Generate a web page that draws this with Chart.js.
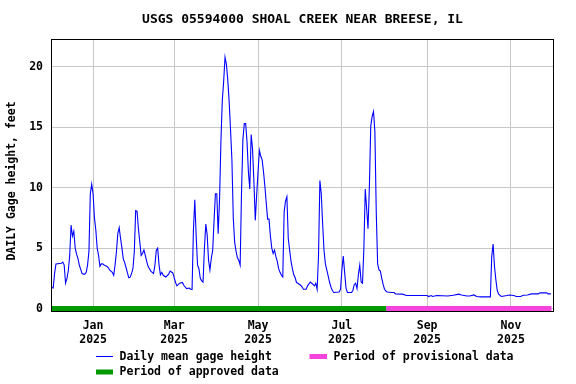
<!DOCTYPE html>
<html>
<head>
<meta charset="utf-8">
<script src="https://cdn.jsdelivr.net/npm/chart.js@4.4.1/dist/chart.umd.min.js"></script>
<style>
  html, body { margin: 0; padding: 0; background: #fff; }
</style>
</head>
<body>
<canvas id="gage" width="576" height="384"></canvas>
<script>
// day 0 = Jan 1 2025
const days = [-30,-29,-28,-27,-23,-22,-21,-20,-19,-18,-17,-16,-15,-14,-13,-12,-11,-10,-9,-8,-7,-6,-5,-4,-3,-2,-1,
  0,1,2,3,4,5,6,7,8,9,10,11,12,13,14,15,16,17,18,19,20,21,22,23,24,25,26,27,28,29,30,31,32,33,34,35,36,37,38,39,
  40,41,42,43,44,45,46,47,48,49,50,51,53,55,56,58,59,60,61,63,65,66,68,70,71,72,73,74,75,76,77,78,79,80,
  81,82,83,84,85,86,87,88,89,90,91,92,93,94,95,96,97,98,99,100,101,102,103,104,105,106,107,108,109,110,
  111,112,113,114,115,116,117,118,119,120,121,122,123,124,125,126,127,128,129,130,131,132,133,134,135,136,137,138,
  139,140,141,142,143,144,145,146,147,148,149,151,152,153,155,156,158,159,160,161,162,163,164,165,166,167,168,169,
  170,171,172,173,174,175,179,180,181,182,183,184,185,188,189,190,191,192,193,194,195,196,197,198,199,200,
  201,202,203,204,205,206,207,208,209,210,211,212,213,214,217,219,220,225,228,243,244,246,247,250,258,262,266,268,
  272,274,277,279,282,289,290,291,292,293,294,295,296,297,299,301,303,306,308,311,313,316,319,324,325,330,331,333];
const heights = [1.75,1.7,2.9,3.7,3.75,3.85,3.6,2.1,2.5,3.15,4.4,6.9,6.0,6.4,5.0,4.5,4.15,3.6,3.25,2.9,2.85,2.85,3.0,3.6,4.75,9.5,10.3,
  9.5,7.5,6.5,5.0,4.4,3.5,3.7,3.7,3.6,3.55,3.5,3.4,3.2,3.1,3.0,2.76,3.6,4.7,6.2,6.7,5.8,5.0,4.1,3.8,3.4,2.95,2.55,2.6,2.9,3.3,4.7,8.1,8.05,6.6,5.5,4.4,4.56,4.84,4.4,3.9,
  3.5,3.3,3.1,3.0,2.9,3.6,4.84,5.0,3.6,2.8,3.0,2.76,2.62,2.85,3.1,2.95,2.57,2.16,1.88,2.1,2.16,1.93,1.66,1.7,1.6,1.57,6.5,9.0,6.0,3.6,3.3,2.5,2.3,2.2,
  5.0,7.0,6.1,4.0,3.2,4.15,4.8,7.25,9.5,9.5,6.2,9.0,13.8,17.2,18.8,20.8,20.2,18.9,17.1,14.8,12.3,7.5,5.5,4.75,4.2,4.0,3.6,9.7,14.0,15.3,
  15.3,13.8,11.3,9.9,14.4,13.2,10.5,7.3,9.4,11.3,13.1,12.6,12.3,11.3,10.1,8.7,7.4,7.4,6.0,5.0,4.56,4.84,4.3,3.9,3.3,3.0,2.76,2.62,
  8.0,8.9,9.26,5.8,4.84,3.9,3.3,2.8,2.55,2.16,2.1,1.93,1.8,1.6,1.6,1.88,2.2,2.1,2.0,1.88,2.1,1.6,4.4,10.6,9.5,7.0,4.8,3.7,
  3.2,2.7,2.2,1.8,1.52,1.33,1.38,1.6,3.2,4.34,3.0,1.7,1.33,1.33,1.5,2.0,2.1,1.66,2.8,3.6,2.2,2.1,5.0,9.9,8.3,6.6,
  10.1,15.1,15.9,16.3,14.65,8.0,3.7,3.2,3.1,2.5,2.0,1.6,1.45,1.38,1.33,1.33,1.22,1.2,1.08,1.08,1.0,1.08,1.0,1.08,1.04,1.1,1.2,1.13,
  1.04,1.04,1.13,1.0,0.97,0.97,4.3,5.34,3.5,2.4,1.5,1.2,1.1,1.0,1.04,1.08,1.13,1.08,1.0,1.0,1.1,1.13,1.22,1.22,1.3,1.3,1.22,1.22];

const approvedSpan = [-30.6, 213.2];
const provisionalSpan = [213.2, 333.5];
const tickDays = [0, 59, 120, 181, 243, 304];
const tickMonths = ['Jan', 'Mar', 'May', 'Jul', 'Sep', 'Nov'];
const tickYear = '2025';
const yTicks = [0, 5, 10, 15, 20];
const titleText = 'USGS 05594000 SHOAL CREEK NEAR BREESE, IL';
const yTitle = 'DAILY Gage height, feet';

const BLUE = '#0000ff', GREEN = '#009900', PINK = '#f444dc';
const FONT = '"DejaVu Sans Mono", monospace';

Chart.defaults.font.family = FONT;
Chart.defaults.font.size = 11.5;
Chart.defaults.font.weight = 'bold';
Chart.defaults.color = '#000';

// frame, title, y axis title and legend, drawn the way the USGS plot has them
const decor = {
  id: 'decor',
  afterDraw(chart) {
    const { ctx, chartArea: a } = chart;
    ctx.save();
    ctx.strokeStyle = '#000';
    ctx.lineWidth = 1;
    ctx.strokeRect(Math.round(a.left) + 0.5, Math.round(a.top) + 0.5,
      Math.round(a.right - a.left) - 1, Math.round(a.bottom - a.top) - 1);

    ctx.fillStyle = '#000';
    ctx.textBaseline = 'middle';
    ctx.font = 'bold 13px ' + FONT;
    ctx.textAlign = 'center';
    ctx.fillText(titleText, (a.left + a.right) / 2, 20);

    ctx.font = 'bold 11.5px ' + FONT;
    ctx.save();
    ctx.translate(12, 181);
    ctx.rotate(-Math.PI / 2);
    ctx.fillText(yTitle, 0, 0);
    ctx.restore();

    ctx.textAlign = 'left';
    const item = (x1, x2, y, color, w, label) => {
      ctx.strokeStyle = color;
      ctx.lineWidth = w;
      ctx.beginPath();
      ctx.moveTo(x1, y);
      ctx.lineTo(x2, y);
      ctx.stroke();
      ctx.fillText(label, x2 + 6.5, y + 0.5);
    };
    item(96, 113, 356.5, BLUE, 1, 'Daily mean gage height');
    item(309.5, 327, 356.5, PINK, 5, 'Period of provisional data');
    item(96, 113, 372, GREEN, 5, 'Period of approved data');
    ctx.restore();
  }
};

const periodLine = (span, color) => ({
  data: span.map(d => ({ x: d, y: 0 })),
  borderColor: color,
  borderWidth: 5,
  pointRadius: 0,
  borderCapStyle: 'butt'
});

new Chart(document.getElementById('gage'), {
  type: 'line',
  data: {
    datasets: [
      periodLine(approvedSpan, GREEN),
      periodLine(provisionalSpan, PINK),
      {
        data: days.map((d, i) => ({ x: d, y: heights[i] })),
        borderColor: BLUE,
        borderWidth: 1.1,
        pointRadius: 0,
        tension: 0
      }
    ]
  },
  options: {
    responsive: false,
    animation: false,
    devicePixelRatio: 1,
    layout: { padding: { top: 39, right: 22, left: 0, bottom: 0 } },
    plugins: { legend: { display: false }, title: { display: false }, tooltip: { enabled: false } },
    scales: {
      x: {
        type: 'linear',
        min: -30.6,
        max: 335.3,
        afterFit: s => { s.height = 72; },
        afterBuildTicks: s => { s.ticks = tickDays.map(v => ({ value: v })); },
        grid: { color: '#c8c8c8', lineWidth: 1, drawTicks: false },
        border: { display: false },
        ticks: {
          padding: 7,
          maxRotation: 0,
          autoSkip: false,
          font: { size: 11.5, weight: 'bold', lineHeight: 1.2 },
          callback: v => [tickMonths[tickDays.indexOf(v)], tickYear]
        }
      },
      y: {
        min: -0.28,
        max: 22.3,
        afterFit: s => { s.width = 51; },
        afterBuildTicks: s => { s.ticks = yTicks.map(v => ({ value: v })); },
        grid: { color: '#c8c8c8', lineWidth: 1, drawTicks: false },
        border: { display: false },
        ticks: { padding: 8, font: { size: 11.5, weight: 'bold' } }
      }
    }
  },
  plugins: [decor]
});
</script>
</body>
</html>
